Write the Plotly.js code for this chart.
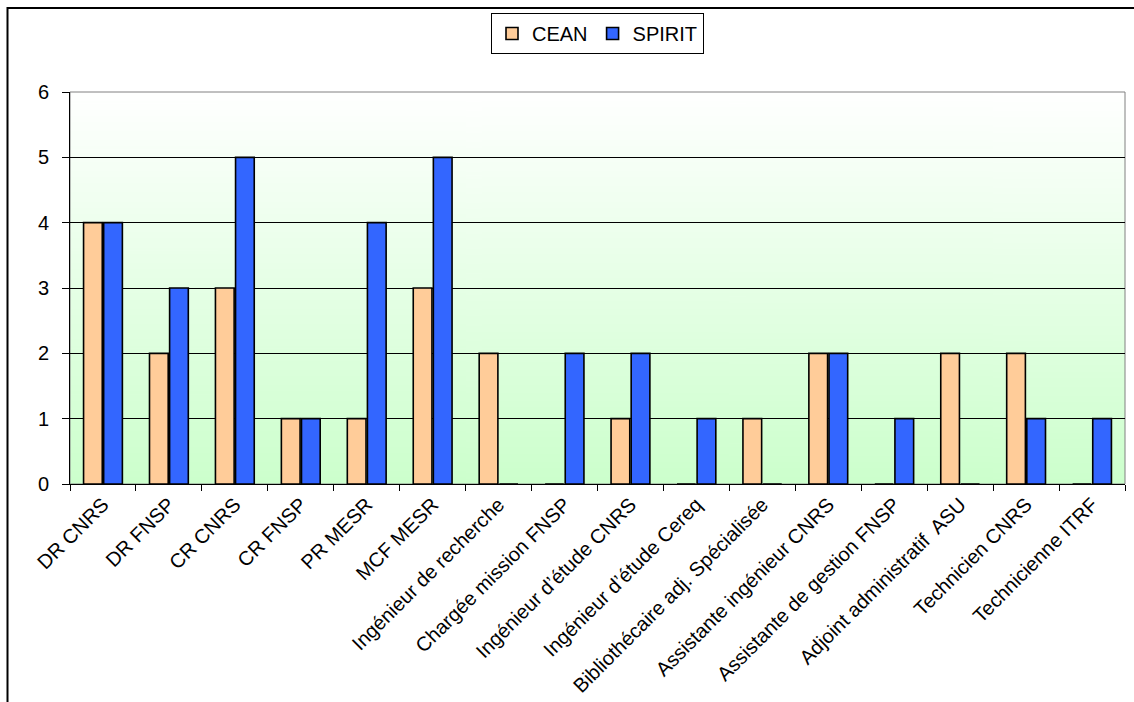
<!DOCTYPE html>
<html>
<head>
<meta charset="utf-8">
<script src="https://cdn.plot.ly/plotly-3.0.1.min.js"></script>
<style>
  html, body { margin: 0; padding: 0; background: #ffffff; overflow: hidden; }
  #chart { width: 1134px; height: 702px; }
</style>
</head>
<body>
<div id="chart"></div>
<script>
// ---- data ----
const categories = [
  "DR CNRS", "DR FNSP", "CR CNRS", "CR FNSP", "PR MESR", "MCF MESR",
  "Ingénieur de recherche", "Chargée mission FNSP", "Ingénieur d’étude CNRS",
  "Ingénieur d’étude Cereq", "Bibliothécaire adj. Spécialisée",
  "Assistante ingénieur CNRS", "Assistante de gestion FNSP",
  "Adjoint administratif  ASU", "Technicien CNRS", "Technicienne ITRF"
];
const ceanValues   = [4, 2, 3, 1, 1, 3, 2, 0, 1, 0, 1, 2, 0, 2, 2, 0];
const spiritValues = [4, 3, 5, 1, 4, 5, 0, 2, 2, 1, 0, 2, 1, 0, 1, 1];
const seriesNames  = ["CEAN", "SPIRIT"];
const yTicks = [0, 1, 2, 3, 4, 5, 6];

// ---- gradient background image for plot area ----
function gradientURL() {
  const c = document.createElement('canvas');
  c.width = 4; c.height = 256;
  const g = c.getContext('2d');
  const grd = g.createLinearGradient(0, 0, 0, 256);
  grd.addColorStop(0, '#ffffff');
  grd.addColorStop(1, '#ccffcc');
  g.fillStyle = grd;
  g.fillRect(0, 0, 4, 256);
  return c.toDataURL('image/png');
}

const FONT = "Liberation Sans, Arial, sans-serif";

const traces = [
  {
    type: 'bar', name: seriesNames[0], x: categories, y: ceanValues,
    marker: { color: '#ffcc99', line: { color: '#000000', width: 1.6 } }
  },
  {
    type: 'bar', name: seriesNames[1], x: categories, y: spiritValues,
    marker: { color: '#3366ff', line: { color: '#000000', width: 1.6 } }
  }
];

// plot area in pixels: left 70, right 1125, top 92, bottom 484
const L = 70, R = 1125, T = 92, B = 484;
const W = R - L, H = B - T;
const px = v => (v - L) / W;
const py = v => (B - v) / H;

const layout = {
  width: 1134, height: 702,
  margin: { l: L, r: 1134 - R, t: T, b: 702 - B, pad: 0 },
  paper_bgcolor: '#ffffff',
  plot_bgcolor: 'rgba(0,0,0,0)',
  font: { family: FONT, size: 20, color: '#000000' },
  barmode: 'group',
  bargap: 0.39,
  bargroupgap: 0.07,
  showlegend: true,
  legend: {
    orientation: 'h',
    x: 0.5, xanchor: 'center',
    y: py(13), yanchor: 'top',
    bgcolor: '#ffffff', bordercolor: '#000000', borderwidth: 1,
    font: { family: FONT, size: 20, color: '#000000' },
    itemclick: false
  },
  xaxis: {
    type: 'category',
    showline: true, linecolor: '#000000', linewidth: 1,
    ticks: 'outside', tickson: 'boundaries', ticklen: 6, tickcolor: '#000000', tickwidth: 1,
    tickangle: -45,
    tickfont: { family: FONT, size: 20, color: '#000000' },
    showgrid: false, zeroline: false,
    automargin: false
  },
  yaxis: {
    range: [0, 6],
    tickvals: yTicks,
    showline: true, linecolor: '#000000', linewidth: 1,
    ticks: 'outside', ticklen: 7, tickcolor: '#000000', tickwidth: 1,
    ticklabelstandoff: 9,
    tickfont: { family: FONT, size: 20, color: '#000000' },
    showgrid: true, gridcolor: '#000000', gridwidth: 1,
    zeroline: false,
    automargin: false
  },
  images: [{
    source: gradientURL(),
    xref: 'paper', yref: 'paper',
    x: 0, y: 1, sizex: 1, sizey: 1,
    xanchor: 'left', yanchor: 'top',
    sizing: 'stretch', layer: 'below'
  }],
  shapes: [
    { type: 'rect', xref: 'paper', yref: 'paper', x0: 0, x1: 1, y0: 0, y1: 1,
      line: { color: '#808080', width: 1 }, layer: 'below' },
    { type: 'rect', xref: 'paper', yref: 'paper',
      x0: px(7.5), x1: px(1200), y0: py(8), y1: py(800),
      line: { color: '#000000', width: 2 }, layer: 'above' }
  ]
};

Plotly.newPlot('chart', traces, layout, { displayModeBar: false, staticPlot: true });
</script>
</body>
</html>
